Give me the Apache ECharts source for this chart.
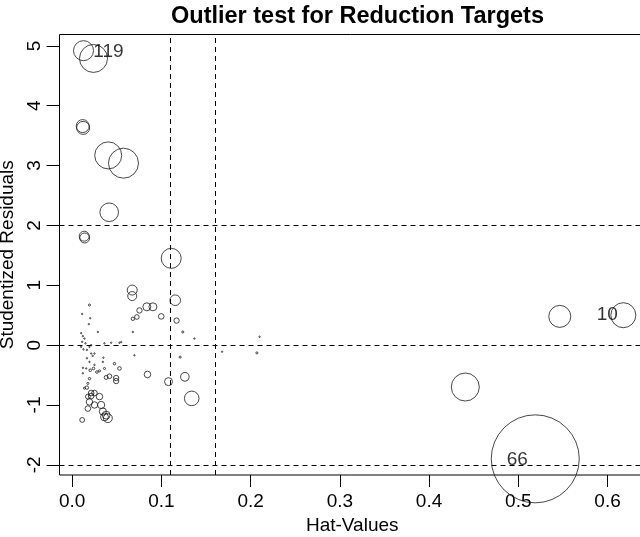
<!DOCTYPE html>
<html>
<head>
<meta charset="utf-8">
<script src="https://cdn.jsdelivr.net/npm/echarts@6/dist/echarts.min.js"></script>
<style>
html,body{margin:0;padding:0;background:#fff;}
#chart{width:640px;height:537px;}
</style>
</head>
<body>
<div id="chart"></div>
<script>
// Hat-values (leverage) of each observation
var hatValues = [
  0.0127, 0.0239, 0.0118, 0.0123, 0.0404, 0.0575, 0.0415, 0.0135, 0.0140, 0.1110,
  0.0673, 0.0673, 0.1155, 0.0905, 0.0837, 0.0754, 0.0998, 0.0725, 0.0680, 0.1170,
  0.1240, 0.1370, 0.1680, 0.2100, 0.2070, 0.1210, 0.0680, 0.0194, 0.0112, 0.0202,
  0.0187, 0.0288, 0.0101, 0.0120, 0.0138, 0.0112, 0.0149, 0.0101, 0.0127, 0.0165,
  0.0194, 0.0213, 0.0250, 0.0213, 0.0362, 0.0437, 0.0530, 0.0550, 0.0698, 0.0165,
  0.0194, 0.0250, 0.0344, 0.0120, 0.0120, 0.0157, 0.0202, 0.0239, 0.0277, 0.0306,
  0.0362, 0.0474, 0.0530, 0.0381, 0.0418, 0.0493, 0.0493, 0.0844, 0.1080, 0.1263,
  0.0194, 0.0176, 0.0138, 0.0165, 0.0213, 0.0250, 0.0213, 0.0176, 0.0306, 0.0194,
  0.0250, 0.0325, 0.0176, 0.0344, 0.0381, 0.0400, 0.0362, 0.0112, 0.1340, 0.4406,
  0.5465, 0.6177, 0.5190, 0.0230, 0.0350
];
// Studentized residuals
var studRes = [
  4.92, 4.79, 3.66, 3.63, 3.17, 3.04, 2.22, 1.82, 1.79, 1.45,
  0.92, 0.82, 0.75, 0.64, 0.64, 0.58, 0.48, 0.47, 0.44, 0.41,
  0.22, 0.11, -0.11, 0.14, -0.13, -0.20, 0.22, 0.67, 0.52, 0.45,
  0.35, 0.22, 0.20, 0.15, 0.11, 0.055, 0.03, -0.03, -0.07, -0.08,
  -0.03, 0.00, -0.14, -0.14, 0.03, 0.04, 0.04, 0.05, -0.17, -0.22,
  -0.28, -0.33, -0.28, -0.38, -0.47, -0.39, -0.42, -0.39, -0.45, -0.43,
  -0.39, -0.31, -0.39, -0.54, -0.52, -0.55, -0.60, -0.49, -0.61, -0.53,
  -0.56, -0.64, -0.72, -0.71, -0.80, -0.80, -0.85, -0.86, -0.86, -0.95,
  -1.00, -1.00, -1.06, -1.11, -1.17, -1.22, -1.20, -1.25, -0.89, -0.70,
  0.48, 0.50, -1.90, -0.18, -0.21
];
// Cook's distances (circle area is proportional to them)
var cookD = [
  0.0278, 0.0544, 0.0117, 0.0117, 0.0506, 0.0625, 0.0240, 0.0069, 0.0069, 0.0278,
  0.0069, 0.0056, 0.0078, 0.0044, 0.0044, 0.0020, 0.0022, 0.0015, 0.0008, 0.0020,
  0.0003, 0.00014, 0.00014, 0.00014, 0.0003, 0.0003, 0.00014, 0.0003, 0.00014, 0.00014,
  0.00014, 0.00014, 0.00014, 0.00014, 0.00014, 0.00014, 0.00014, 0.00014, 0.00014, 0.00014,
  0.00014, 0.00014, 0.00014, 0.00014, 0.00014, 0.00014, 0.00014, 0.00014, 0.00014, 0.00014,
  0.00014, 0.00014, 0.00014, 0.00014, 0.00014, 0.00014, 0.00047, 0.00047, 0.00047, 0.0003,
  0.0003, 0.0004, 0.0009, 0.0011, 0.0015, 0.0020, 0.0020, 0.0030, 0.0044, 0.0051,
  0.0004, 0.0003, 0.0003, 0.0008, 0.0022, 0.0022, 0.0022, 0.0016, 0.0029, 0.0029,
  0.0029, 0.0036, 0.0022, 0.0036, 0.0043, 0.0055, 0.0043, 0.0016, 0.0148, 0.0544,
  0.0336, 0.0434, 0.5380, 0.00014, 0.00014
];
// Identified observations and the index of the point they belong to
var idLabels = ['119', '10', '66'];
var idIndex = [0, 91, 92];
// Reference lines
var hatCutoffs = [0.1055, 0.158];
var resCutoffs = [-2, 0, 2];
// Tick labels
var xTicks = [0.0, 0.1, 0.2, 0.3, 0.4, 0.5, 0.6];
var yTicks = [-2, -1, 0, 1, 2, 3, 4, 5];

var FONT = 'Liberation Sans, Arial, sans-serif';
var labelOffsets = [[25, 1], [-16, 0], [-18, 1]];

var points = hatValues.map(function (h, i) {
  var item = { value: [h, studRes[i], cookD[i]] };
  var k = idIndex.indexOf(i);
  if (k >= 0) {
    item.label = {
      show: true, formatter: idLabels[k], position: 'inside',
      offset: labelOffsets[k], color: '#000', fontSize: 19, fontFamily: FONT
    };
  }
  return item;
});

var chart = echarts.init(document.getElementById('chart'), null, { renderer: 'canvas' });
chart.setOption({
  animation: false,
  backgroundColor: '#fff',
  title: {
    text: 'Outlier test for Reduction Targets',
    left: 357.5, top: 5, textAlign: 'center', padding: 0,
    textStyle: { fontSize: 23.5, fontWeight: 'bold', color: '#000', fontFamily: FONT }
  },
  grid: {
    left: 59.5, right: -5, top: 34.5, bottom: 62,
    containLabel: false, outerBoundsMode: 'none',
    show: true, borderColor: '#000', borderWidth: 1, backgroundColor: 'transparent'
  },
  xAxis: {
    type: 'value', min: -0.0142, max: 0.642,
    axisLine: { show: false, onZero: false },
    splitLine: { show: false },
    axisTick: { show: true, length: 12, lineStyle: { color: '#000' }, customValues: xTicks },
    axisLabel: {
      customValues: xTicks, formatter: function (v) { return v.toFixed(1); },
      fontSize: 19, color: '#000', fontFamily: FONT, margin: 17
    },
    name: 'Hat-Values', nameLocation: 'middle', nameGap: 39,
    nameTextStyle: { fontSize: 19, color: '#000', fontFamily: FONT }
  },
  yAxis: {
    type: 'value', min: -2.17, max: 5.19,
    axisLine: { show: false, onZero: false },
    splitLine: { show: false },
    axisTick: { show: true, length: 13, lineStyle: { color: '#000' }, customValues: yTicks },
    axisLabel: {
      customValues: yTicks, rotate: 90, fontSize: 19, color: '#000', fontFamily: FONT, margin: 15
    },
    name: 'Studentized Residuals', nameLocation: 'middle', nameGap: 35,
    nameTextStyle: { fontSize: 19, color: '#000', fontFamily: FONT }
  },
  series: [{
    type: 'scatter',
    data: points,
    symbol: 'circle',
    symbolSize: function (val) { return Math.max(1.4, 120 * Math.sqrt(val[2])); },
    itemStyle: { color: 'rgba(0,0,0,0)', borderColor: '#1a1a1a', borderWidth: 1 },
    emphasis: { disabled: true },
    clip: true,
    markLine: {
      silent: true, symbol: 'none', animation: false,
      label: { show: false },
      lineStyle: { type: [5, 4], color: '#000', width: 1 },
      data: hatCutoffs.map(function (v) { return { xAxis: v }; })
        .concat(resCutoffs.map(function (v) { return { yAxis: v }; }))
    }
  }]
});
</script>
</body>
</html>
